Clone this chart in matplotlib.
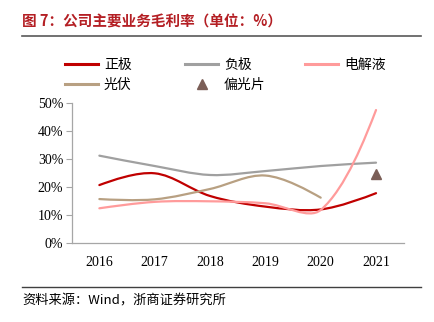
import numpy as np
import matplotlib
matplotlib.use("Agg")
from matplotlib import pyplot as plt
from matplotlib.path import Path
from matplotlib.patches import PathPatch
from matplotlib.lines import Line2D

# 公司主要业务毛利率 (单位: %)
years = ["2016", "2017", "2018", "2019", "2020", "2021"]
zhengji = [20.8, 25.0, 16.9, 13.1, 12.1, 17.9]      # 正极
fuji = [31.3, 27.6, 24.4, 25.8, 27.6, 28.8]         # 负极
dianjieye = [12.5, 14.8, 15.0, 14.3, 11.9, 47.6]    # 电解液
guangfu = [15.8, 15.7, 19.4, 24.2, 16.3]            # 光伏 (to 2020)
pianguangpian = [24.6]                               # 偏光片 (2021 only)
pgp_year = ["2021"]

CJK = ["Noto Sans CJK SC", "DejaVu Sans"]
SERIF = ["Liberation Serif", "DejaVu Serif"]

W, H = 434.0, 322.0
XPX, YPX = 55.5, 280.0   # rough pixel size of one x step / y unit, for smoothing


def smooth_path(xs, ys):
    # excel-like smoothed line: bezier controls weighted by segment length
    pts = np.column_stack([xs, ys]).astype(float)
    scl = np.array([XPX, YPX])
    n = len(pts)
    seg = [np.hypot(*((pts[i + 1] - pts[i]) * scl)) for i in range(n - 1)]
    ctrl_in = [None] * n
    ctrl_out = [None] * n
    for i in range(n):
        if i == 0 or i == n - 1:
            ctrl_in[i] = pts[i]
            ctrl_out[i] = pts[i]
            continue
        t = pts[i + 1] - pts[i - 1]
        dp, dn = seg[i - 1], seg[i]
        ctrl_in[i] = pts[i] - t * dp / (dp + dn) / 3.0
        ctrl_out[i] = pts[i] + t * dn / (dp + dn) / 3.0
    # end points: aim toward neighbour control
    if n > 2:
        ctrl_out[0] = pts[0] + (ctrl_in[1] - pts[0]) / 3.0
        ctrl_in[-1] = pts[-1] + (ctrl_out[-2] - pts[-1]) / 3.0
    verts = [pts[0]]
    codes = [Path.MOVETO]
    for i in range(n - 1):
        verts += [ctrl_out[i], ctrl_in[i + 1], pts[i + 1]]
        codes += [Path.CURVE4] * 3
    return Path(verts, codes)


fig = plt.figure(figsize=(4.34, 3.22), dpi=100)
ax = fig.add_axes([71.7 / W, 1 - 243.3 / H, (403.7 - 71.7) / W, (243.3 - 103.3) / H])

series = [
    (zhengji, "#C00000", "正极"),
    (fuji, "#A0A0A0", "负极"),
    (dianjieye, "#FF9B9B", "电解液"),
    (guangfu, "#B8A082", "光伏"),
]
handles = {}
for vals, col, name in series:
    xs = np.arange(len(vals))
    ys = np.array(vals) / 100.0
    ax.add_patch(PathPatch(smooth_path(xs, ys), fill=False, edgecolor=col,
                           lw=1.6, capstyle="round", transform=ax.transData))
    handles[name] = Line2D([], [], color=col, lw=2.2)

xi = [years.index(y) for y in pgp_year]
ax.plot(xi, np.array(pianguangpian) / 100.0, linestyle="none", marker="^",
        color="#7B5E57", markersize=7)
handles["偏光片"] = Line2D([], [], linestyle="none", marker="^", color="#7B5E57", markersize=7)

ax.set_xlim(-0.5, 5.5)
ax.set_ylim(0, 0.5)
ax.set_xticks(range(len(years)))
ax.set_xticklabels(years, fontfamily=SERIF, fontsize=10)
ax.set_yticks(np.arange(0, 0.51, 0.1))
ax.set_yticklabels(["%d%%" % v for v in range(0, 51, 10)], fontfamily=SERIF, fontsize=10)
ax.tick_params(axis="x", length=0, pad=9, colors="#000000")
ax.tick_params(axis="y", length=4, width=0.8, color="#A6A6A6", pad=2)
for s in ["top", "right"]:
    ax.spines[s].set_visible(False)
for s in ["left", "bottom"]:
    ax.spines[s].set_color("#A6A6A6")
    ax.spines[s].set_linewidth(0.9)

# legend, three columns placed separately
cols = [(65, ["正极", "光伏"]), (185, ["负极", "偏光片"]), (305, ["电解液"])]
for xpix, names in cols:
    lg = fig.legend([handles[n] for n in names], names, loc="upper left",
                    bbox_to_anchor=(xpix / W, 1 - 57.5 / H), frameon=False,
                    borderpad=0, borderaxespad=0, handlelength=2.4,
                    handletextpad=0.4, labelspacing=0.45,
                    prop={"family": CJK, "size": 10})

# title and rules
fig.text(22 / W, 1 - 22 / H, "图 7：公司主要业务毛利率（单位：%）", color="#B41F24",
         fontsize=10.5, fontweight="bold", family=CJK, va="center", ha="left")
fig.add_artist(Line2D([22 / W, 421 / W], [1 - 36 / H, 1 - 36 / H], color="#595959", lw=1.2))
fig.add_artist(Line2D([22 / W, 421 / W], [1 - 287 / H, 1 - 287 / H], color="#404040", lw=1.0))
fig.text(22 / W, 1 - 301.5 / H, "资料来源：Wind，浙商证券研究所", color="#000000",
         fontsize=9.5, family=CJK, va="center", ha="left")

fig.savefig("out.png", dpi=100)
